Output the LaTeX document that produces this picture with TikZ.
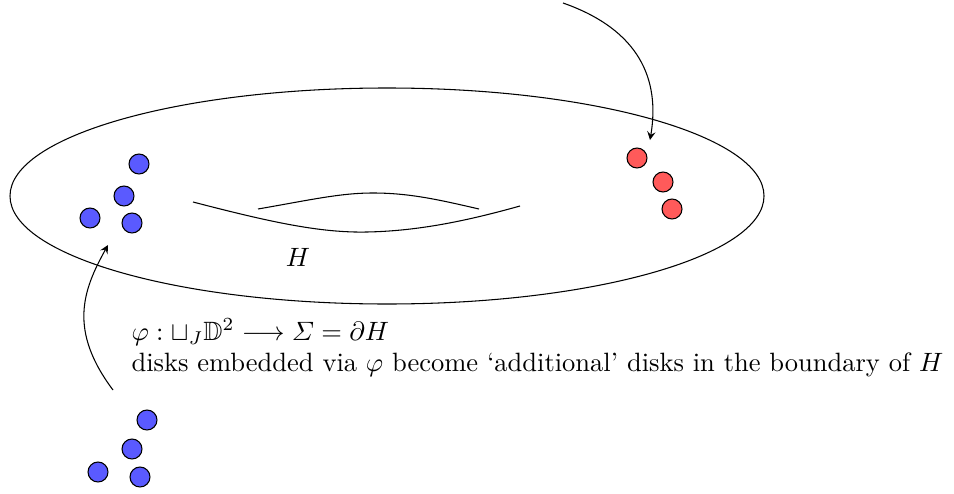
\documentclass[tikz,border=0pt]{standalone}
\usepackage{amsmath,amssymb}
\definecolor{diskblue}{RGB}{90,90,255}
\definecolor{diskred}{RGB}{255,90,90}
\tikzset{
    bluedisk/.style={circle,draw,fill=diskblue,minimum size=0.265cm,inner sep=0pt},
    reddisk/.style={circle,draw,fill=diskred,minimum size=0.265cm,inner sep=0pt}
}

\begin{document}
\begin{tikzpicture}[x=0.01326cm,y=-0.01326cm]
    \useasboundingbox (0,0) rectangle (954,493);
    \draw (387,196) ellipse [x radius=377,y radius=108];
    % the hole of H
    \draw (193,202) .. controls (270,222) and (320,233) .. (367,232) .. controls (420,231) and (470,220) .. (520,206);
    \draw (258,209) .. controls (310,200) and (340,193) .. (373,193) .. controls (410,193) and (440,200) .. (479,209);
    \node (H) at (298,257) {$H$};
    % disks in the boundary
    \node[bluedisk] (b1) at (139,164) {};
    \node[bluedisk] (b2) at (124,196) {};
    \node[bluedisk] (b3) at (90,218) {};
    \node[bluedisk] (b4) at (132,223) {};
    \node[reddisk] (r1) at (637,158) {};
    \node[reddisk] (r2) at (663,182) {};
    \node[reddisk] (r3) at (672,209) {};
    % disks to be embedded
    \node[bluedisk] (e1) at (147,420) {};
    \node[bluedisk] (e2) at (132,449) {};
    \node[bluedisk] (e3) at (98,472) {};
    \node[bluedisk] (e4) at (140,477) {};
    \node[align=left,anchor=north west,inner sep=0pt] (phi) at (131,318)
        {$\varphi:\sqcup_J\mathbb{D}^2\longrightarrow\varSigma=\partial H$\\
         disks embedded via $\varphi$ become `additional' disks in the boundary of $H$};
    \coordinate (from) at (113,390);
    \coordinate (to) at (108,245);
    \draw[-stealth] (from) .. controls (68,330) and (83,290) .. (to);
    \coordinate (top) at (563,3);
    \coordinate (red) at (650,140);
    \draw[-stealth] (top) .. controls (640,30) and (660,80) .. (red);
\end{tikzpicture}
\end{document}
